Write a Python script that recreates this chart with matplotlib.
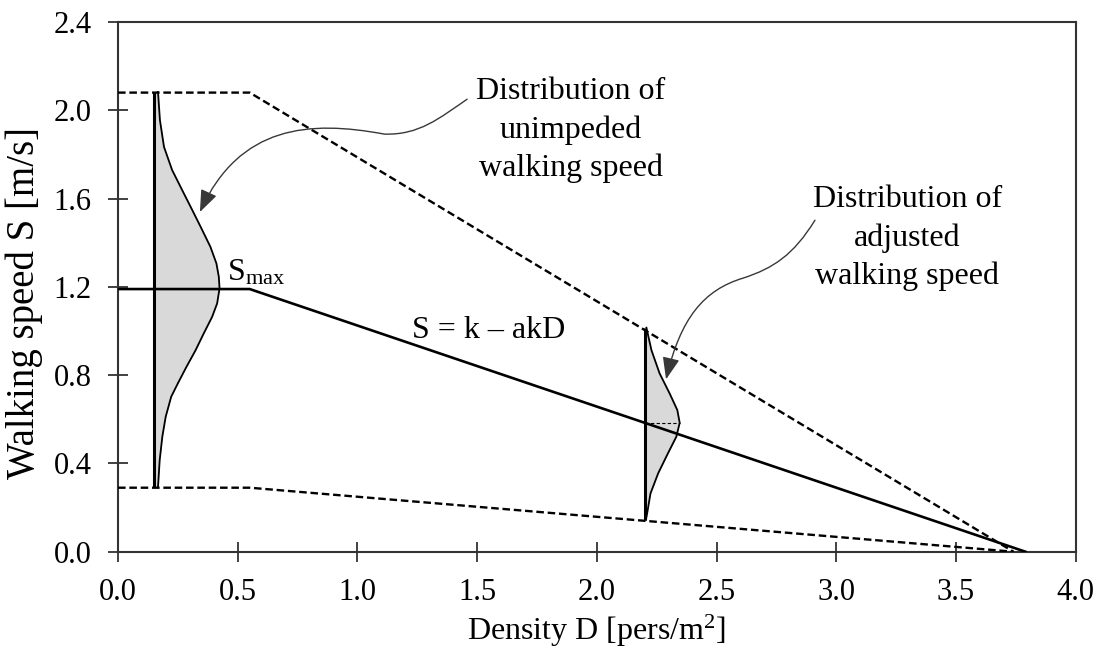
import matplotlib
matplotlib.use("Agg")
import matplotlib.pyplot as plt
from matplotlib.path import Path
from matplotlib.patches import FancyArrowPatch

plt.rcParams["font.family"] = ["Liberation Serif", "DejaVu Serif"]
plt.rcParams["mathtext.fontset"] = "custom"
plt.rcParams["mathtext.rm"] = "Liberation Serif"
plt.rcParams["mathtext.it"] = "Liberation Serif:italic"

# Speed-density relation: upper / mean / lower bounds (D in pers/m2, S in m/s)
upper_D = [0.0, 0.55, 3.74]
upper_S = [2.08, 2.08, 0.0]
mean_D = [0.0, 0.55, 3.79]
mean_S = [1.19, 1.19, 0.0]
lower_D = [0.0, 0.55, 3.74]
lower_S = [0.29, 0.29, 0.0]

# Unimpeded speed distribution drawn at D = 0.15 (offset = density width)
free_D = 0.15
free_speed = [2.083, 1.955, 1.834, 1.729, 1.623, 1.548, 1.472, 1.381, 1.306,
              1.245, 1.193, 1.125, 1.064, 0.989, 0.913, 0.838, 0.763, 0.702,
              0.611, 0.521, 0.415, 0.294]
free_width = [0.017, 0.025, 0.042, 0.076, 0.125, 0.160, 0.195, 0.236, 0.261,
              0.271, 0.274, 0.264, 0.243, 0.208, 0.174, 0.136, 0.100, 0.072,
              0.049, 0.035, 0.024, 0.017]

# Adjusted speed distribution drawn at D = 2.2
adj_D = 2.2
adj_speed = [1.015, 0.913, 0.808, 0.717, 0.642, 0.584, 0.521, 0.446, 0.355,
             0.264, 0.174, 0.145]
adj_width = [0.007, 0.028, 0.062, 0.104, 0.136, 0.146, 0.132, 0.097, 0.056,
             0.024, 0.010, 0.005]
adj_peak = 0.584

x_ticks = [0.0, 0.5, 1.0, 1.5, 2.0, 2.5, 3.0, 3.5, 4.0]
y_ticks = [0.0, 0.4, 0.8, 1.2, 1.6, 2.0, 2.4]

fig = plt.figure(figsize=(11, 6.5), dpi=100)
ax = fig.add_axes([0.1073, 0.1512, 0.8706, 0.815])

TICK_FS = 22
TEXT_FS = 23
dash = (3.2, 1.6)

ax.plot(upper_D, upper_S, color="black", lw=1.7, dashes=dash, zorder=3)
ax.plot(lower_D, lower_S, color="black", lw=1.7, dashes=dash, zorder=3)
ax.plot(mean_D, mean_S, color="black", lw=1.9, zorder=3)


def draw_distribution(base, speeds, widths):
    xs = [base + w for w in widths]
    ax.fill_betweenx(speeds, base, xs, color="#d9d9d9", lw=0, zorder=1)
    ax.plot(xs, speeds, color="black", lw=1.3, zorder=2)
    ax.plot([base, base], [min(speeds), max(speeds)], color="black",
            lw=2.2, zorder=4, solid_capstyle="butt")


draw_distribution(free_D, free_speed, free_width)
draw_distribution(adj_D, adj_speed, adj_width)
ax.plot([adj_D, adj_D + max(adj_width)], [adj_peak, adj_peak], color="black",
        lw=0.8, dashes=(3, 2), zorder=2)

# Curved pointers from the captions to the distributions
C4 = Path.CURVE4
arrow1 = Path([(1.458, 2.050), (1.342, 1.964), (1.258, 1.887), (1.112, 1.892),
               (0.800, 1.955), (0.508, 1.933), (0.342, 1.539)],
              [Path.MOVETO, C4, C4, C4, C4, C4, C4])
arrow2 = Path([(2.911, 1.502), (2.821, 1.344), (2.738, 1.285), (2.612, 1.240),
               (2.446, 1.186), (2.350, 1.059), (2.289, 0.781)],
              [Path.MOVETO, C4, C4, C4, C4, C4, C4])
for p in (arrow1, arrow2):
    ax.add_patch(FancyArrowPatch(path=p, arrowstyle="-|>,head_length=0.9,head_width=0.35",
                                 mutation_scale=15, color="#383838", lw=1.0,
                                 zorder=5))

ax.text(1.892, 1.91, "Distribution of\nunimpeded\nwalking speed", ha="center",
        va="center", fontsize=TEXT_FS, linespacing=1.4)
ax.text(3.296, 1.42, "Distribution of\nadjusted\nwalking speed", ha="center",
        va="center", fontsize=TEXT_FS, linespacing=1.4)
ax.text(0.455, 1.23, r"S$_{\mathrm{max}}$", fontsize=TEXT_FS, ha="left",
        va="baseline")
ax.text(1.55, 0.97, "S = k \u2013 akD", fontsize=TEXT_FS, ha="center",
        va="baseline")

ax.set_xlim(0, 4.0)
ax.set_ylim(0, 2.4)
ax.set_xticks(x_ticks)
ax.set_yticks(y_ticks)
ax.set_xticklabels([f"{v:.1f}" for v in x_ticks])
ax.set_yticklabels([f"{v:.1f}" for v in y_ticks])
ax.tick_params(direction="inout", length=14, width=1.3, labelsize=TICK_FS,
               color="#333333", pad=12)
for s in ax.spines.values():
    s.set_linewidth(1.5)
    s.set_color("#333333")

ax.set_xlabel("Density D [pers/m$^2$]", fontsize=TEXT_FS, labelpad=4)
ax.set_ylabel("Walking speed S [m/s]", fontsize=28)
ax.yaxis.set_label_coords(-0.078, 0.47)

fig.savefig("out.png", dpi=100)
